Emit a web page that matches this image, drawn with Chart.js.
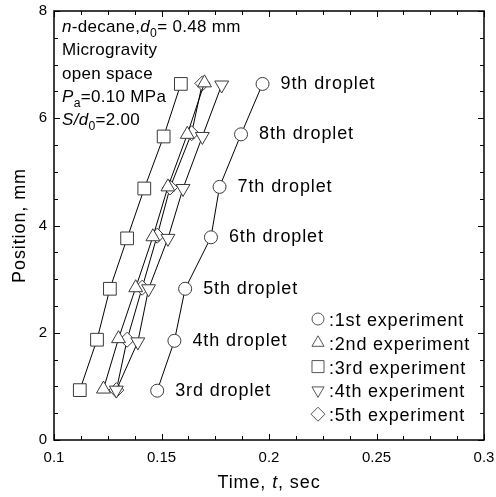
<!DOCTYPE html>
<html>
<head>
<meta charset="utf-8">
<script src="https://cdn.jsdelivr.net/npm/chart.js@4/dist/chart.umd.min.js"></script>
<style>
  html, body { margin: 0; padding: 0; background: #fff; }
</style>
</head>
<body>
<canvas id="myChart" width="496" height="497"></canvas>
<script>
// time (sec) and position (mm) of each droplet, per experiment
var time1 = [0.148, 0.156, 0.161, 0.173, 0.177, 0.187, 0.197];
var pos1 = [0.92, 1.85, 2.82, 3.78, 4.72, 5.70, 6.64];
var time2 = [0.123, 0.130, 0.138, 0.146, 0.153, 0.162, 0.170];
var pos2 = [0.95, 1.89, 2.84, 3.79, 4.72, 5.70, 6.66];
var time3 = [0.112, 0.120, 0.126, 0.134, 0.142, 0.151, 0.159];
var pos3 = [0.93, 1.87, 2.82, 3.76, 4.69, 5.66, 6.64];
var time4 = [0.129, 0.139, 0.144, 0.153, 0.160, 0.169, 0.178];
var pos4 = [0.93, 1.83, 2.82, 3.76, 4.69, 5.66, 6.62];
var time5 = [0.129, 0.134, 0.141, 0.148, 0.154, 0.164, 0.169];
var pos5 = [0.93, 1.87, 2.84, 3.81, 4.71, 5.72, 6.65];

var dropletNames = ['3rd droplet', '4th droplet', '5th droplet', '6th droplet', '7th droplet', '8th droplet', '9th droplet'];
var experimentNames = [':1st experiment', ':2nd experiment', ':3rd experiment', ':4th experiment', ':5th experiment'];
var xTickValues = [0.1, 0.15, 0.2, 0.25, 0.3];
var yTickValues = [0, 2, 4, 6, 8];

var FONT = '"Liberation Sans", Arial, sans-serif';
Chart.defaults.font.family = FONT;
Chart.defaults.color = '#000';

function pts(xs, ys) {
  return xs.map(function (x, i) { return { x: x, y: ys[i] }; });
}

var markerLine = '#3a3a3a';
var styles = [
  { pointStyle: 'circle', radius: 6.5, rotation: 0 },
  { pointStyle: 'triangle', radius: 8, rotation: 0 },
  { pointStyle: 'rect', radius: 9, rotation: 0 },
  { pointStyle: 'triangle', radius: 8, rotation: 180 },
  { pointStyle: 'rectRot', radius: 7.5, rotation: 0 }
];
var series = [pts(time1, pos1), pts(time2, pos2), pts(time3, pos3), pts(time4, pos4), pts(time5, pos5)];

var datasets = series.map(function (d, i) {
  return {
    label: experimentNames[i],
    data: d,
    showLine: true,
    borderColor: '#000',
    borderWidth: 1,
    pointStyle: styles[i].pointStyle,
    pointRadius: styles[i].radius,
    pointRotation: styles[i].rotation,
    pointBackgroundColor: '#fff',
    pointBorderColor: markerLine,
    pointBorderWidth: 1
  };
});

function setFont(ctx, size, italic, spacing) {
  ctx.font = (italic ? 'italic ' : '') + size + 'px ' + FONT;
  if ('letterSpacing' in ctx) ctx.letterSpacing = (spacing || 0) + 'px';
}

function richText(ctx, x, y, parts, size, spacing) {
  parts.forEach(function (p) {
    var st = p[1] || '';
    var sub = st === 'sub';
    setFont(ctx, sub ? size * 0.72 : size, st === 'i', spacing);
    ctx.fillText(p[0], x, y + (sub ? size * 0.3 : 0));
    x += ctx.measureText(p[0]).width;
  });
  return x;
}

function richWidth(ctx, parts, size, spacing) {
  var w = 0;
  parts.forEach(function (p) {
    var st = p[1] || '';
    setFont(ctx, st === 'sub' ? size * 0.72 : size, st === 'i', spacing);
    w += ctx.measureText(p[0]).width;
  });
  return w;
}

var decorations = {
  id: 'decorations',
  afterDraw: function (chart) {
    var ctx = chart.ctx, a = chart.chartArea;
    var xs = chart.scales.x, ys = chart.scales.y;
    ctx.save();

    // frame
    ctx.strokeStyle = '#000';
    ctx.lineWidth = 1.5;
    ctx.strokeRect(a.left, a.top, a.right - a.left, a.bottom - a.top);

    // inward ticks, 4 subdivisions per labelled step
    ctx.lineWidth = 1;
    ctx.beginPath();
    var k, v, px, len;
    for (k = 0; k <= 16; k++) {
      v = 0.1 + k * 0.0125;
      px = Math.round(xs.getPixelForValue(v)) + 0.5;
      len = k % 4 === 0 ? 6 : 4;
      ctx.moveTo(px, a.bottom); ctx.lineTo(px, a.bottom - len);
      ctx.moveTo(px, a.top); ctx.lineTo(px, a.top + len);
    }
    for (k = 0; k <= 16; k++) {
      v = k * 0.5;
      px = Math.round(ys.getPixelForValue(v)) + 0.5;
      len = k % 4 === 0 ? 6 : 4;
      ctx.moveTo(a.left, px); ctx.lineTo(a.left + len, px);
      ctx.moveTo(a.right, px); ctx.lineTo(a.right - len, px);
    }
    ctx.stroke();

    ctx.fillStyle = '#000';

    // tick labels
    setFont(ctx, 15, false, 0);
    ctx.textAlign = 'center';
    ctx.textBaseline = 'middle';
    xTickValues.forEach(function (t) {
      ctx.fillText(String(t), xs.getPixelForValue(t), a.bottom + 18);
    });
    ctx.textAlign = 'right';
    yTickValues.forEach(function (t) {
      ctx.fillText(String(t), a.left - 7, ys.getPixelForValue(t));
    });

    ctx.textAlign = 'left';
    ctx.textBaseline = 'alphabetic';

    // conditions in the top-left corner
    var size = 17, tx = a.left + 8, ty = a.top + 21, lh = 23.3;
    richText(ctx, tx, ty, [['n', 'i'], ['-decane,'], ['d', 'i'], ['0', 'sub'], ['= 0.48 mm']], size, 0.3);
    richText(ctx, tx, ty + lh, [['Microgravity']], size, 0.3);
    richText(ctx, tx, ty + 2 * lh, [['open space']], size, 0.3);
    richText(ctx, tx, ty + 3 * lh, [['P', 'i'], ['a', 'sub'], ['=0.10 MPa']], size, 0.3);
    richText(ctx, tx, ty + 4 * lh, [['S/d', 'i'], ['0', 'sub'], ['=2.00']], size, 0.3);

    // droplet labels next to the 1st experiment points
    setFont(ctx, 18, false, 0.9);
    ctx.textBaseline = 'middle';
    dropletNames.forEach(function (name, i) {
      var x = xs.getPixelForValue(time1[i]) + 18;
      var y = ys.getPixelForValue(pos1[i]);
      ctx.fillText(name, x, y);
    });

    // legend
    ctx.textBaseline = 'alphabetic';
    var lx = a.left + 264, ly = a.top + 308, lstep = 23.8;
    experimentNames.forEach(function (name, i) {
      var y = ly + i * lstep;
      ctx.save();
      ctx.fillStyle = '#fff';
      ctx.strokeStyle = '#555';
      ctx.lineWidth = 1;
      Chart.helpers.drawPoint(ctx, {
        pointStyle: styles[i].pointStyle,
        radius: i === 0 ? 6 : (i === 2 ? 8.5 : 7),
        rotation: styles[i].rotation,
        borderWidth: 1
      }, lx, y);
      ctx.restore();
      setFont(ctx, 18, false, 0.8);
      ctx.fillText(name, lx + 11, y + 7);
    });

    // axis titles
    var xt = [['Time, '], ['t', 'i'], [', sec']];
    var w = richWidth(ctx, xt, 18, 0.9);
    richText(ctx, (a.left + a.right) / 2 - w / 2, 488, xt, 18, 0.9);

    ctx.translate(25, (a.top + a.bottom) / 2);
    ctx.rotate(-Math.PI / 2);
    setFont(ctx, 18, false, 0.9);
    ctx.textAlign = 'center';
    ctx.fillText('Position, mm', 0, 0);

    ctx.restore();
  }
};

var ctx = document.getElementById('myChart').getContext('2d');

var myChart = new Chart(ctx, {
  type: 'scatter',
  data: { datasets: datasets },
  plugins: [decorations],
  options: {
    responsive: false,
    animation: false,
    layout: { padding: { top: 11, right: 12, left: 0, bottom: 0 } },
    plugins: { legend: { display: false }, tooltip: { enabled: false } },
    scales: {
      x: {
        type: 'linear',
        min: 0.1,
        max: 0.3,
        afterFit: function (s) { s.height = 57; },
        grid: { display: false, drawTicks: false },
        border: { display: false },
        ticks: { display: false }
      },
      y: {
        type: 'linear',
        min: 0,
        max: 8,
        afterFit: function (s) { s.width = 54; },
        grid: { display: false, drawTicks: false },
        border: { display: false },
        ticks: { display: false }
      }
    }
  }
});
</script>
</body>
</html>
